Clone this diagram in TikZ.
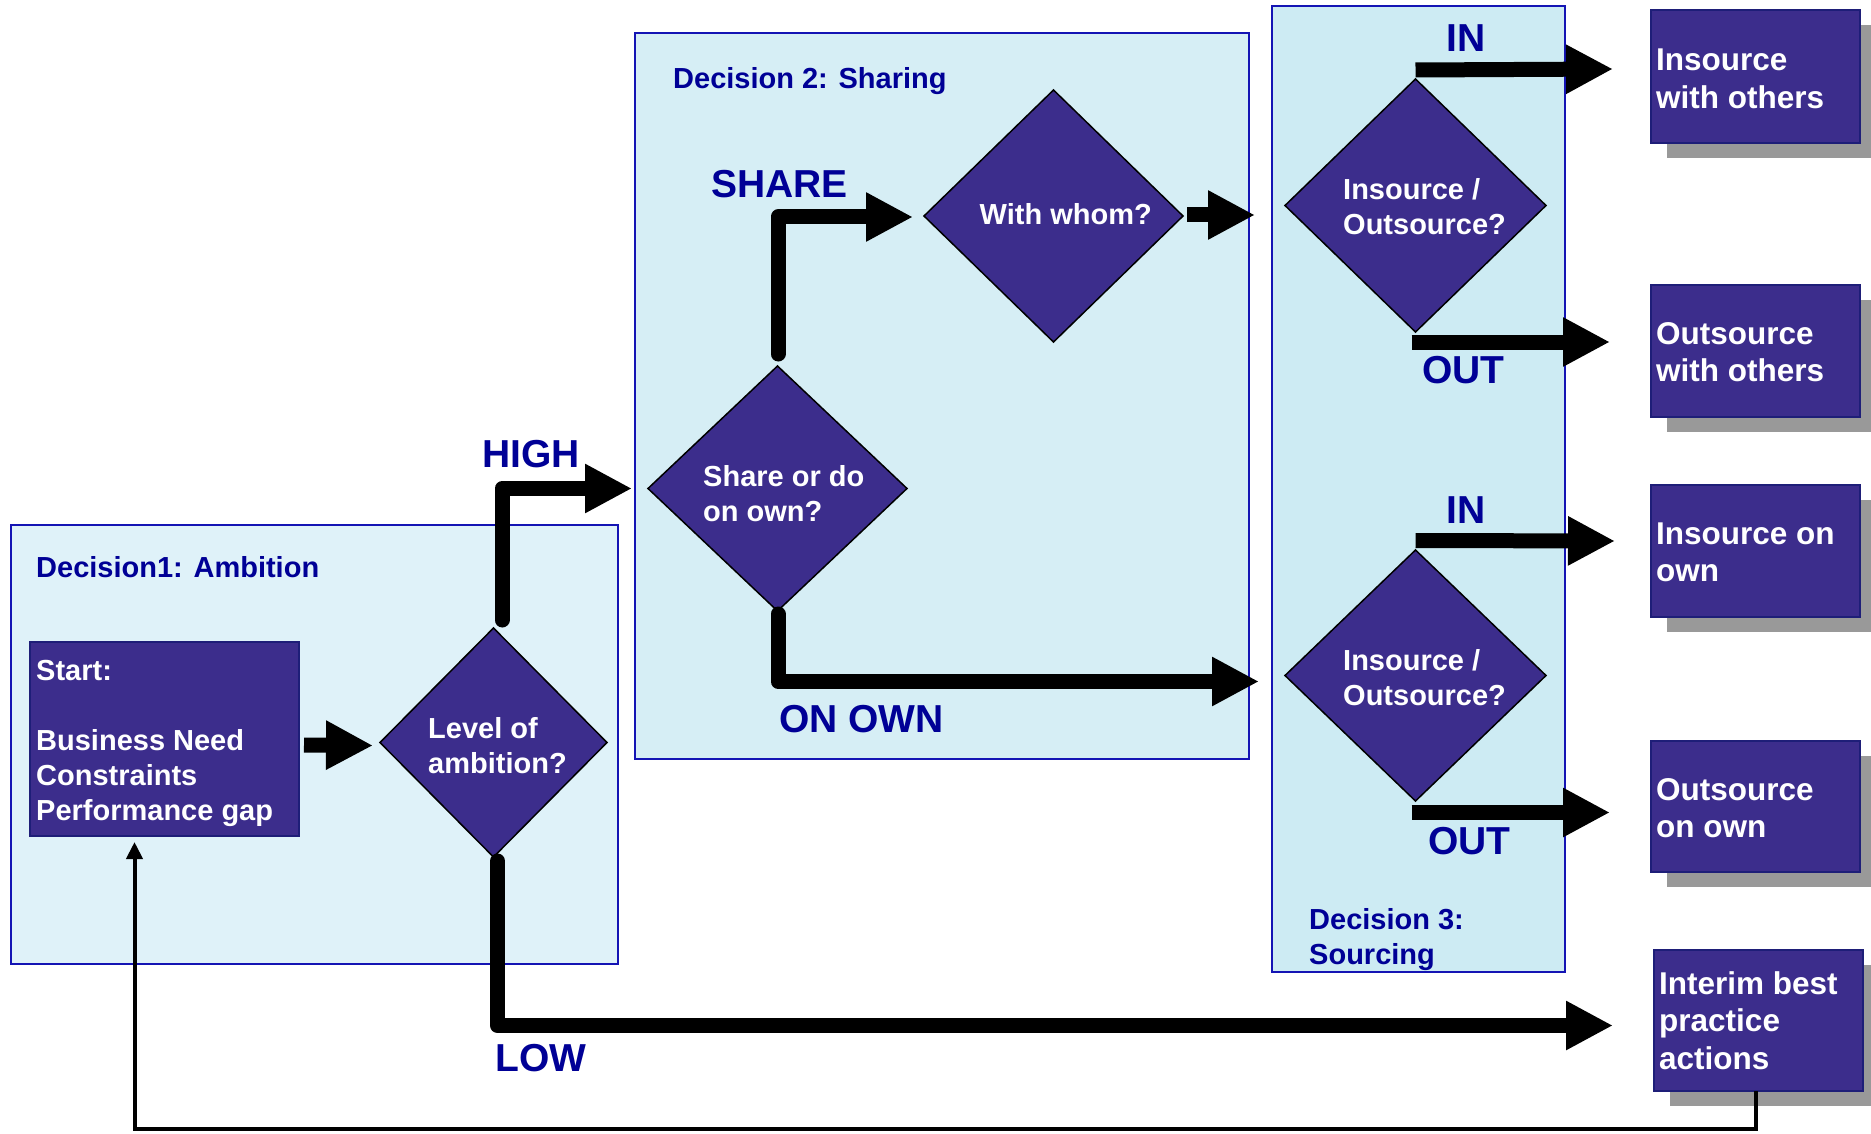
\documentclass[tikz,border=0pt]{standalone}
\usepackage{fontspec}
\setmainfont{Liberation Sans}
\usetikzlibrary{arrows.meta,shapes.geometric,calc,shadows}

\definecolor{navy}{RGB}{0,0,150}
\definecolor{boxfill}{RGB}{60,45,140}
\definecolor{boxline}{RGB}{30,30,120}
\definecolor{panelline}{RGB}{20,20,180}
\definecolor{panelA}{RGB}{223,242,249}
\definecolor{panelB}{RGB}{214,238,245}
\definecolor{panelC}{RGB}{205,235,243}
\definecolor{shade}{RGB}{153,153,153}

% multi-line text whose baseline is that of its first line
\newcommand{\txtlines}[1]{\parbox[t]{300pt}{\raggedright #1}}

\tikzset{
  panel/.style={rectangle, draw=panelline, line width=2pt, inner sep=0pt, outer sep=0pt},
  purplebox/.style={rectangle, draw=boxline, fill=boxfill, line width=2pt,
    inner sep=0pt, outer sep=0pt},
  resultbox/.style={purplebox, minimum width=209pt,
    general shadow={fill=shade, shadow xshift=16pt, shadow yshift=-15pt}},
  question/.style={diamond, draw=black, line width=1.5pt, fill=boxfill,
    inner sep=0pt, outer sep=0pt},
  heading/.style={anchor=base west, inner sep=0pt, text=navy,
    font=\fontsize{29}{35}\selectfont\bfseries},
  branch/.style={anchor=base west, inner sep=0pt, text=navy,
    font=\fontsize{39}{47}\selectfont\bfseries},
  qtext/.style={anchor=base west, inner sep=0pt, text=white,
    font=\fontsize{29}{35}\selectfont\bfseries},
  btext/.style={anchor=base west, inner sep=0pt, text=white,
    font=\fontsize{31.5}{37.5}\selectfont\bfseries},
  flow/.style={line width=15pt, -{Triangle[length=47pt,width=46pt]}, line join=round},
  flowround/.style={flow, line cap=round},
  feedback/.style={line width=4pt, -{Triangle[length=17pt,width=16pt]}},
}

\begin{document}
\begin{tikzpicture}[x=1pt,y=-1pt]
\path[use as bounding box, fill=white] (0,0) rectangle (1871,1134);

% the three decision panels
\node[panel, fill=panelA, minimum width=607pt, minimum height=439pt] (ambition) at (314.5,744.5) {};
\node[panel, fill=panelB, minimum width=614pt, minimum height=726pt] (sharing) at (942,396) {};
\node[panel, fill=panelC, minimum width=293pt, minimum height=966pt] (sourcing) at (1418.5,489) {};

\node[heading] (ambition-title) at (36,577) {Decision1: Ambition};
\node[heading] (sharing-title) at (673,89) {Decision 2: Sharing};
\node[heading] (sourcing-title) at (1309,929) {\txtlines{Decision 3:\\Sourcing}};

% start box
\node[purplebox, minimum width=269pt, minimum height=194pt] (start) at (164.5,739) {};
\node[qtext] (start-text) at (36,680)
  {\txtlines{Start:\\\mbox{}\\Business Need\\Constraints\\Performance gap}};

% decision diamonds
\node[question, minimum width=227pt, minimum height=229pt] (level) at (493.5,742.5) {};
\node[qtext] (level-text) at (428,738) {\txtlines{Level of\\ambition?}};

\node[question, minimum width=259pt, minimum height=245pt] (share) at (777.5,488.5) {};
\node[qtext] (share-text) at (703,486.5) {\txtlines{Share or do\\on own?}};

\node[question, minimum width=259pt, minimum height=252pt] (whom) at (1053.5,216) {};
\node[qtext] (whom-text) at (979.5,225) {With whom?};

\node[question, minimum width=261pt, minimum height=253pt] (src1) at (1415.5,205.5) {};
\node[qtext] (src1-text) at (1343,200) {\txtlines{Insource /\\Outsource?}};

\node[question, minimum width=261pt, minimum height=251pt] (src2) at (1415.5,675.5) {};
\node[qtext] (src2-text) at (1343,670.5) {\txtlines{Insource /\\Outsource?}};

% outcome boxes
\node[resultbox, minimum height=133pt] (box1) at (1755.5,76.5) {};
\node[btext] (box1-text) at (1656,71) {\txtlines{Insource\\with others}};
\node[resultbox, minimum height=132pt] (box2) at (1755.5,351) {};
\node[btext] (box2-text) at (1656,344) {\txtlines{Outsource\\with others}};
\node[resultbox, minimum height=132pt] (box3) at (1755.5,551) {};
\node[btext] (box3-text) at (1656,544) {\txtlines{Insource on\\own}};
\node[resultbox, minimum height=131pt] (box4) at (1755.5,806.5) {};
\node[btext] (box4-text) at (1656,800) {\txtlines{Outsource\\on own}};
\node[resultbox, minimum height=141pt] (interim) at (1758.5,1020.5) {};
\node[btext] (interim-text) at (1659,994) {\txtlines{Interim best\\practice\\actions}};

% branch labels
\node[branch] (high) at (482,467.5) {HIGH};
\node[branch] (low) at (495,1071) {LOW};
\node[branch] (shareword) at (711,198) {SHARE};
\node[branch] (onown) at (779,732) {ON OWN};
\node[branch] (in1) at (1446,52) {IN};
\node[branch] (out1) at (1422,383) {OUT};
\node[branch] (in2) at (1446,523) {IN};
\node[branch] (out2) at (1428,854) {OUT};

% connectors
\draw[flow] ($(start.east)+(5,6)$) -- ($(level.west)+(-7,3)$);
\draw[flowround] ($(level.north)+(8.5,-8)$) |- ($(share.west)+(-16,0)$);
\draw[flowround] ($(level.south)+(4,4)$) |- ($(interim.west)+(-41,5)$);
\draw[flowround] ($(share.north)+(0.5,-12)$) |- ($(whom.west)+(-11,1)$);
\draw[flow] ($(whom.east)+(4,-1)$) -- ($(whom.east -| src1.west)+(-30,-1)$);
\draw[flowround] ($(share.south)+(0.5,3)$) |- ($(src2.west)+(-26,6)$);
\draw[flow] ($(src1.north)+(0,-9)$) -- ($(src1.north -| box1.west)+(-38,-10)$);
\draw[flow] ($(src1.south)+(-4,10)$) -- ($(src1.south -| box2.west)+(-41,10)$);
\draw[flow] ($(src2.north)+(0,-9.5)$) -- ($(src2.north -| box3.west)+(-36,-9)$);
\draw[flow] ($(src2.south)+(-4,11.5)$) -- ($(src2.south -| box4.west)+(-41,11.5)$);
\draw[feedback] ($(interim.south)+(-2.5,0)$) -- ++(0,38) -| ($(start.south)+(-30,6)$);
\end{tikzpicture}
\end{document}
